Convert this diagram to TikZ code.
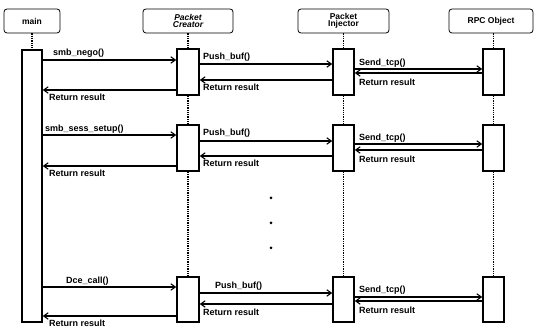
\documentclass[tikz,border=0pt]{standalone}
\usepackage{fontspec}
\setmainfont{Liberation Sans}
\usetikzlibrary{arrows.meta}
\tikzset{
  hdr/.style={draw, rounded corners=3pt, line width=0.8pt, inner sep=0pt, minimum height=24pt, align=center, font=\fontsize{8.5}{9}\selectfont\bfseries},
  act/.style={draw, fill=white, line width=1.6pt, inner sep=0pt, minimum width=21pt},
  life/.style={line width=1.3pt, densely dotted},
  msg/.style={line width=1.2pt, -{Straight Barb[length=4.5pt,width=6.5pt,line width=1.1pt]}},
  lbl/.style={anchor=west, inner sep=0pt, font=\fontsize{9}{10}\selectfont\bfseries},
  dot/.style={circle, fill, inner sep=0pt, minimum size=3pt}
}
\begin{document}
\begin{tikzpicture}[x=1pt,y=-1pt]
\useasboundingbox (0,0) rectangle (536,328);
% headers
\node[hdr, minimum width=56pt] (hm) at (32,21) {main};
\node[hdr, minimum width=90pt] (hc) at (188,21) {\itshape Packet\\[-2pt]\itshape Creator};
\node[hdr, minimum width=91pt] (hi) at (343.5,21) {Packet\\[-2pt]Injector};
\node[hdr, minimum width=84pt] (hr) at (491,21) {RPC Object};
% activation boxes
\node[act, minimum width=20pt, minimum height=272pt] (mb) at (32,186) {};
\node[act, minimum width=22pt, minimum height=46pt] (c1) at (188,72) {};
\node[act, minimum width=22pt, minimum height=46pt] (c2) at (188,148) {};
\node[act, minimum width=22pt, minimum height=45pt] (c3) at (188,299.5) {};
\node[act, minimum height=46pt] (i1) at (343.5,72) {};
\node[act, minimum height=46pt] (i2) at (343.5,148) {};
\node[act, minimum height=45pt] (i3) at (343.5,299.5) {};
\node[act, minimum height=46pt] (r1) at (493.5,72) {};
\node[act, minimum height=46pt] (r2) at (493.5,148) {};
\node[act, minimum height=45pt] (r3) at (493.5,299.5) {};
% lifelines
\draw[life] (hm.south) -- (mb.north);
\draw[life] (hc.south) -- (c1.north);
\draw[life] (c1.south) -- (c2.north);
\draw[life] (c2.south) -- (c3.north);
\draw[life] (hi.south -| i1) -- (i1.north);
\draw[life] (i1.south) -- (i2.north);
\draw[life] (i2.south) -- (i3.north);
\draw[life] (hr.south -| r1) -- (r1.north);
\draw[life] (r1.south) -- (r2.north);
\draw[life] (r2.south) -- (r3.north);
% block 1
\draw[msg] (mb.east |- 0,60) -- (c1.west |- 0,60);
\node[lbl] (l1a) at (53,53) {smb\_nego()};
\draw[msg] (c1.east |- 0,64) -- (i1.west |- 0,64);
\node[lbl] (l1b) at (203,57) {Push\_buf()};
\draw[msg] (i1.east |- 0,69) -- (r1.west |- 0,69);
\node[lbl] (l1c) at (359,63) {Send\_tcp()};
\draw[msg] (r1.west |- 0,73) -- (i1.east |- 0,73);
\node[lbl] (l1d) at (359,82) {Return result};
\draw[msg] (i1.west |- 0,80) -- (c1.east |- 0,80);
\node[lbl] (l1e) at (203,87) {Return result};
\draw[msg] (c1.west |- 0,90) -- (mb.east |- 0,90);
\node[lbl] (l1f) at (49,97) {Return result};
% block 2
\draw[msg] (mb.east |- 0,135) -- (c2.west |- 0,135);
\node[lbl] (l2a) at (45,129) {smb\_sess\_setup()};
\draw[msg] (c2.east |- 0,141) -- (i2.west |- 0,141);
\node[lbl] (l2b) at (203,133) {Push\_buf()};
\draw[msg] (i2.east |- 0,144) -- (r2.west |- 0,144);
\node[lbl] (l2c) at (359,138) {Send\_tcp()};
\draw[msg] (r2.west |- 0,150) -- (i2.east |- 0,150);
\node[lbl] (l2d) at (359,159) {Return result};
\draw[msg] (i2.west |- 0,156) -- (c2.east |- 0,156);
\node[lbl] (l2e) at (203,163) {Return result};
\draw[msg] (c2.west |- 0,166) -- (mb.east |- 0,166);
\node[lbl] (l2f) at (49,173) {Return result};
% dots
\node[dot] (d1) at (271,198) {};
\node[dot] (d2) at (271,223) {};
\node[dot] (d3) at (271,248) {};
% block 3
\draw[msg] (mb.east |- 0,287) -- (c3.west |- 0,287);
\node[lbl] (l3a) at (66,281) {Dce\_call()};
\draw[msg] (c3.east |- 0,293) -- (i3.west |- 0,293);
\node[lbl] (l3b) at (215,286) {Push\_buf()};
\draw[msg] (i3.east |- 0,297) -- (r3.west |- 0,297);
\node[lbl] (l3c) at (359,290) {Send\_tcp()};
\draw[msg] (r3.west |- 0,301) -- (i3.east |- 0,301);
\node[lbl] (l3d) at (359,310) {Return result};
\draw[msg] (i3.west |- 0,304) -- (c3.east |- 0,304);
\node[lbl] (l3e) at (203,312) {Return result};
\draw[msg] (c3.west |- 0,316) -- (mb.east |- 0,316);
\node[lbl] (l3f) at (49,323) {Return result};
\end{tikzpicture}
\end{document}
